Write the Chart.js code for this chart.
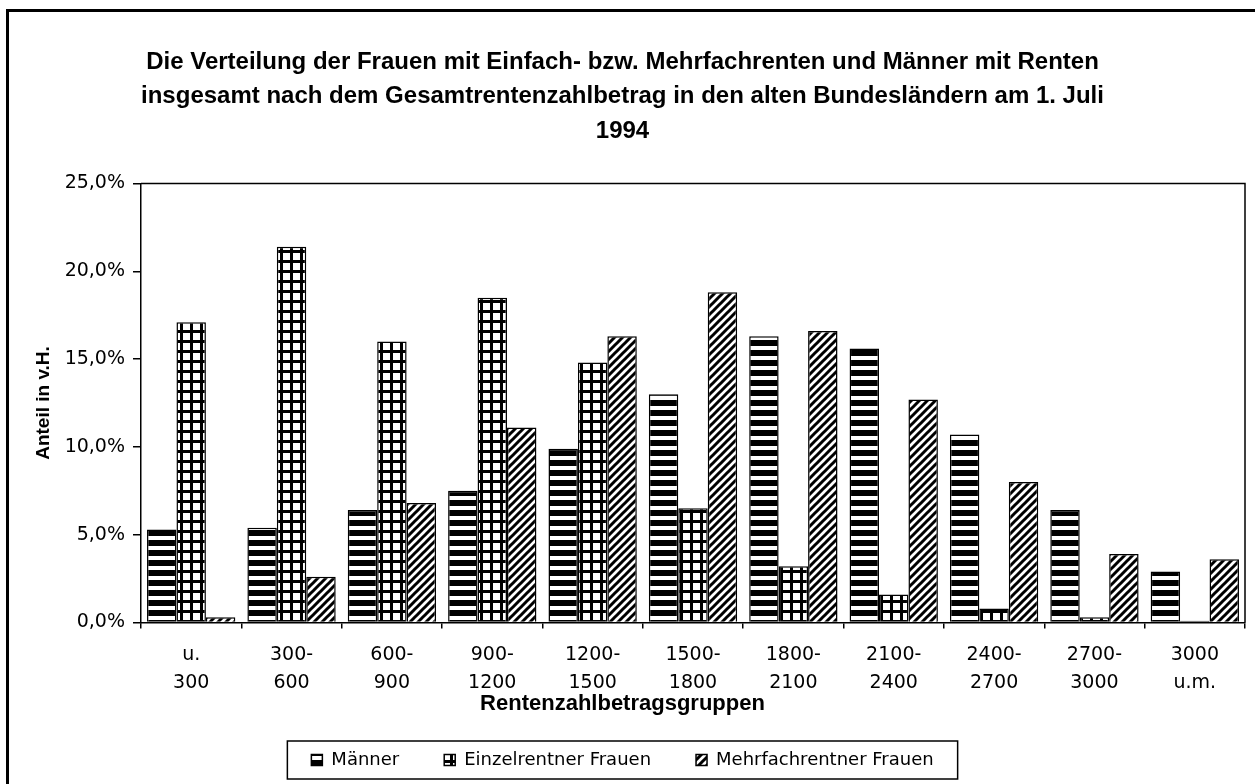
<!DOCTYPE html>
<html>
<head>
<meta charset="utf-8">
<title>Rentenzahlbetragsgruppen</title>
<script src="https://cdn.jsdelivr.net/npm/chart.js@4.4.1/dist/chart.umd.min.js"></script>
<style>
    html, body { margin: 0; padding: 0; background: #fff; overflow: hidden; }
    #contenedor { width: 1255px; height: 784px; }
</style>
</head>
<body>
<div id="contenedor">
    <canvas id="ChartRenten" width="1255" height="784"></canvas>
</div>
<script>
// DATEN
var kategorien = [['u.', '300'], ['300-', '600'], ['600-', '900'], ['900-', '1200'], ['1200-', '1500'],
    ['1500-', '1800'], ['1800-', '2100'], ['2100-', '2400'], ['2400-', '2700'], ['2700-', '3000'], ['3000', 'u.m.']];
var werteMaenner = [5.3, 5.4, 6.4, 7.5, 9.9, 13.0, 16.3, 15.6, 10.7, 6.4, 2.9];
var werteEinzel = [17.1, 21.4, 16.0, 18.5, 14.8, 6.5, 3.2, 1.6, 0.8, 0.3, 0.1];
var werteMehrfach = [0.3, 2.6, 6.8, 11.1, 16.3, 18.8, 16.6, 12.7, 8.0, 3.9, 3.6];
var yTicks = [0, 5, 10, 15, 20, 25];
var serienNamen = ['Männer', 'Einzelrentner Frauen', 'Mehrfachrentner Frauen'];
var titelZeilen = [
    'Die Verteilung der Frauen mit Einfach- bzw. Mehrfachrenten und Männer mit Renten',
    'insgesamt nach dem Gesamtrentenzahlbetrag in den alten Bundesländern am 1. Juli',
    '1994'
];
var xTitel = 'Rentenzahlbetragsgruppen';
var yTitel = 'Anteil in v.H.';

var grafikRenten = {

    init: function () {
        Chart.defaults.font.family = 'Liberation Sans';
        Chart.defaults.color = '#000';

        var ctx = document.getElementById('ChartRenten').getContext('2d');

        new Chart(ctx, {
            type: 'bar',
            data: {
                labels: kategorien,
                datasets: [{
                    label: serienNamen[0],
                    data: werteMaenner,
                    backgroundColor: grafikRenten.MusterStreifen(ctx),
                    borderColor: '#000',
                    borderWidth: 1.5
                },
                {
                    label: serienNamen[1],
                    data: werteEinzel,
                    backgroundColor: grafikRenten.MusterGitter(ctx),
                    borderColor: '#000',
                    borderWidth: 1.5
                },
                {
                    label: serienNamen[2],
                    data: werteMehrfach,
                    backgroundColor: grafikRenten.MusterDiagonal(ctx),
                    borderColor: '#000',
                    borderWidth: 1.5
                }]
            },
            options: {
                responsive: false,
                animation: false,
                devicePixelRatio: 1,
                categoryPercentage: 0.88,
                barPercentage: 1.0,
                layout: {
                    padding: { left: 0, right: 10, top: 0, bottom: 5 }
                },
                plugins: {
                    title: {
                        display: true,
                        text: titelZeilen,
                        color: '#000',
                        font: { size: 24, weight: 'bold', lineHeight: 1.4375 },
                        padding: { top: 45, bottom: 35 }
                    },
                    // Achsentitel unten, auf das ganze Bild zentriert wie im Original
                    subtitle: {
                        display: true,
                        position: 'bottom',
                        weight: 500,
                        text: xTitel,
                        color: '#000',
                        font: { size: 22, weight: 'bold', lineHeight: 0.75 },
                        padding: { top: 0, bottom: -6 }
                    },
                    legend: {
                        position: 'bottom',
                        labels: {
                            font: { size: 18, family: 'DejaVu Sans' },
                            color: '#000',
                            boxWidth: 11,
                            boxHeight: 11,
                            padding: 45
                        }
                    },
                    tooltip: { enabled: false }
                },
                scales: {
                    x: {
                        grid: { drawOnChartArea: false, color: '#000', tickLength: 6, lineWidth: 1.5, offset: true },
                        border: { color: '#000', width: 1.5 },
                        ticks: {
                            color: '#000',
                            font: { size: 19, family: 'DejaVu Sans', lineHeight: 1.47 },
                            padding: 13,
                            maxRotation: 0,
                            autoSkip: false
                        },
                        afterFit: function (scale) {
                            scale.height = 73;
                        }
                    },
                    y: {
                        min: 0,
                        max: 25,
                        grid: { drawOnChartArea: false, color: '#000', tickLength: 8, lineWidth: 1.5 },
                        border: { color: '#000', width: 1.5 },
                        afterBuildTicks: function (scale) {
                            scale.ticks = yTicks.map(function (v) { return { value: v }; });
                        },
                        ticks: {
                            color: '#000',
                            font: { size: 19, family: 'DejaVu Sans' },
                            padding: 8,
                            callback: function (value) {
                                return value.toFixed(1).replace('.', ',') + '%';
                            }
                        },
                        title: {
                            display: true,
                            text: yTitel,
                            color: '#000',
                            font: { size: 19, weight: 'bold', lineHeight: 1.2 },
                            padding: { top: 32, bottom: 0 }
                        },
                        afterFit: function (scale) {
                            scale.width = 141;
                        }
                    }
                }
            },
            plugins: [grafikRenten.PluginRahmen]
        });
    },

    //MUSTER INICIO
    MusterStreifen: function (ctx) {
        var c = document.createElement('canvas');
        c.width = 10;
        c.height = 10;
        var g = c.getContext('2d');
        g.fillStyle = '#fff';
        g.fillRect(0, 0, 10, 10);
        g.fillStyle = '#000';
        g.fillRect(0, 0, 10, 6);
        return ctx.createPattern(c, 'repeat');
    },

    MusterGitter: function (ctx) {
        var c = document.createElement('canvas');
        c.width = 10;
        c.height = 10;
        var g = c.getContext('2d');
        g.fillStyle = '#fff';
        g.fillRect(0, 0, 10, 10);
        g.fillStyle = '#000';
        g.fillRect(0, 0, 10, 3);
        g.fillRect(0, 0, 3, 10);
        return ctx.createPattern(c, 'repeat');
    },

    MusterDiagonal: function (ctx) {
        var c = document.createElement('canvas');
        c.width = 8;
        c.height = 8;
        var g = c.getContext('2d');
        g.fillStyle = '#fff';
        g.fillRect(0, 0, 8, 8);
        g.strokeStyle = '#000';
        g.lineWidth = 3;
        g.beginPath();
        g.moveTo(-2, 10); g.lineTo(10, -2);
        g.moveTo(-6, 6); g.lineTo(6, -6);
        g.moveTo(2, 14); g.lineTo(14, 2);
        g.stroke();
        return ctx.createPattern(c, 'repeat');
    },
    //MUSTER FIN

    // Rahmen um Bild, Zeichenfläche und Legende
    PluginRahmen: {
        id: 'rahmen',
        afterDraw: function (chart) {
            var c = chart.ctx;
            var a = chart.chartArea;
            c.save();
            c.strokeStyle = '#000';

            c.lineWidth = 3;
            c.strokeRect(7.5, 10.5, 1300, 900);

            c.lineWidth = 1.5;
            c.beginPath();
            c.moveTo(a.left, a.top);
            c.lineTo(a.right, a.top);
            c.lineTo(a.right, a.bottom);
            c.stroke();

            var hb = chart.legend.legendHitBoxes;
            if (hb != null && hb.length > 0) {
                var first = hb[0];
                var last = hb[hb.length - 1];
                c.lineWidth = 1.5;
                c.strokeRect(first.left - 24, first.top - 10,
                    last.left + last.width - first.left + 48, first.height + 20);
            }
            c.restore();
        }
    }
};

grafikRenten.init();
</script>
</body>
</html>
